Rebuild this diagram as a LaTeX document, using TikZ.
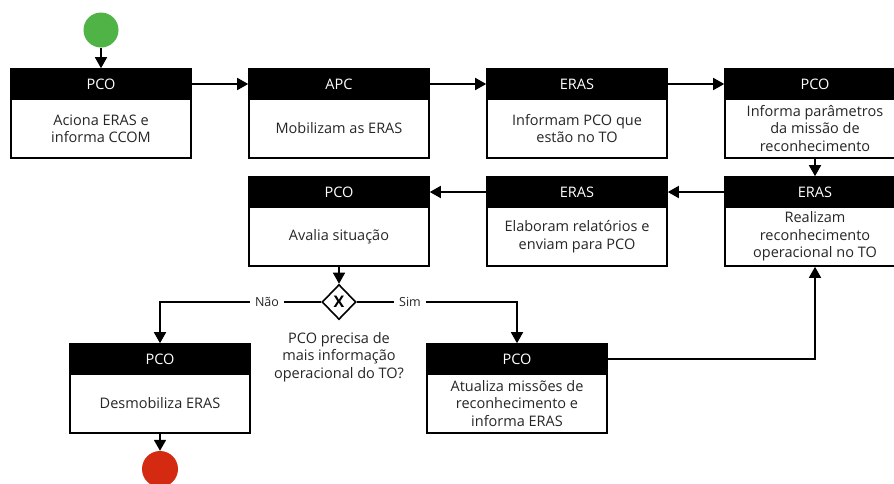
\documentclass[tikz,border=0pt]{standalone}
\usepackage{fontspec}
\setmainfont{Open Sans}
\usetikzlibrary{arrows.meta,shapes.geometric}
\definecolor{txt}{HTML}{262626}
\definecolor{startgreen}{HTML}{4FB346}
\definecolor{endred}{HTML}{D42A12}
\begin{document}
\begin{tikzpicture}[x=1pt,y=-1pt,
  hdr/.style={fill=black,draw=black,line width=1.6pt,minimum width=180pt,
    minimum height=30pt,inner sep=0pt,text=white,font=\fontsize{14.5}{17}\selectfont},
  bdy/.style={fill=white,draw=black,line width=1.6pt,minimum width=180pt,
    minimum height=59pt,inner sep=0pt,align=center,text=txt,
    font=\fontsize{14.5}{17.5}\selectfont},
  flow/.style={line width=1.6pt,-{Triangle[length=11pt,width=12pt]}},
  lbl/.style={fill=white,inner sep=5pt,text=txt,font=\fontsize{12.5}{14}\selectfont},
  gate/.style={diamond,draw=black,fill=white,line width=1.6pt,minimum width=34pt,
    minimum height=35pt,inner sep=0pt,font=\bfseries\fontsize{16}{16}\selectfont},
  startev/.style={circle,fill=startgreen,minimum size=35pt,inner sep=0pt},
  endev/.style={circle,fill=endred,minimum size=36pt,inner sep=0pt},
  note/.style={align=center,text=txt,font=\fontsize{14.5}{17.5}\selectfont,inner sep=0pt}
]
\clip (0,0) rectangle (894,483);
\fill[white] (0,0) rectangle (894,483);

% start and end events
\node[startev] (start) at (101,30) {};
\node[endev] (stop) at (160,469) {};

% activity boxes: header (role) + body (task)
\node[hdr] (h1) at (101,84) {PCO};
\node[bdy] (b1) at (101,128.5) {Aciona ERAS e\\informa CCOM};
\node[hdr] (h2) at (339,84) {APC};
\node[bdy] (b2) at (339,128.5) {Mobilizam as ERAS};
\node[hdr] (h3) at (577,84) {ERAS};
\node[bdy] (b3) at (577,128.5) {Informam PCO que\\estão no TO};
\node[hdr] (h4) at (815,84) {PCO};
\node[bdy] (b4) at (815,128.5) {Informa parâmetros\\da missão de\\reconhecimento};

\node[hdr] (h5) at (815,192) {ERAS};
\node[bdy] (b5) at (815,236.5) {Realizam\\reconhecimento\\operacional no TO};
\node[hdr] (h6) at (577,192) {ERAS};
\node[bdy] (b6) at (577,236.5) {Elaboram relatórios e\\enviam para PCO};
\node[hdr] (h7) at (339,192) {PCO};
\node[bdy] (b7) at (339,236.5) {Avalia situação};

\node[hdr] (h8) at (160,359) {PCO};
\node[bdy] (b8) at (160,403.5) {Desmobiliza ERAS};
\node[hdr] (h9) at (517,359) {PCO};
\node[bdy] (b9) at (517,403.5) {Atualiza missões de\\reconhecimento e\\informa ERAS};

% decision gateway
\node[gate] (g) at (339,302) {X};
\node[note,anchor=north] (q) at (339,332) {PCO precisa de\\mais informação\\operacional do TO?};

% sequence flows
\draw[flow] (start) -- (h1);
\draw[flow] (h1) -- (h2);
\draw[flow] (h2) -- (h3);
\draw[flow] (h3) -- (h4);
\draw[flow] (b4) -- (h5);
\draw[flow] (h5) -- (h6);
\draw[flow] (h6) -- (h7);
\draw[flow] (b7) -- (g);
\draw[flow] (g.west) -| (h8.north);
\draw[flow] (g.east) -| (h9.north);
\draw[flow] (h9.east) -| (b5.south);
\draw[flow] (b8) -- (stop);

% branch labels
\node[lbl] (no) at (267,302) {Não};
\node[lbl] (yes) at (410,302) {Sim};
\end{tikzpicture}
\end{document}
